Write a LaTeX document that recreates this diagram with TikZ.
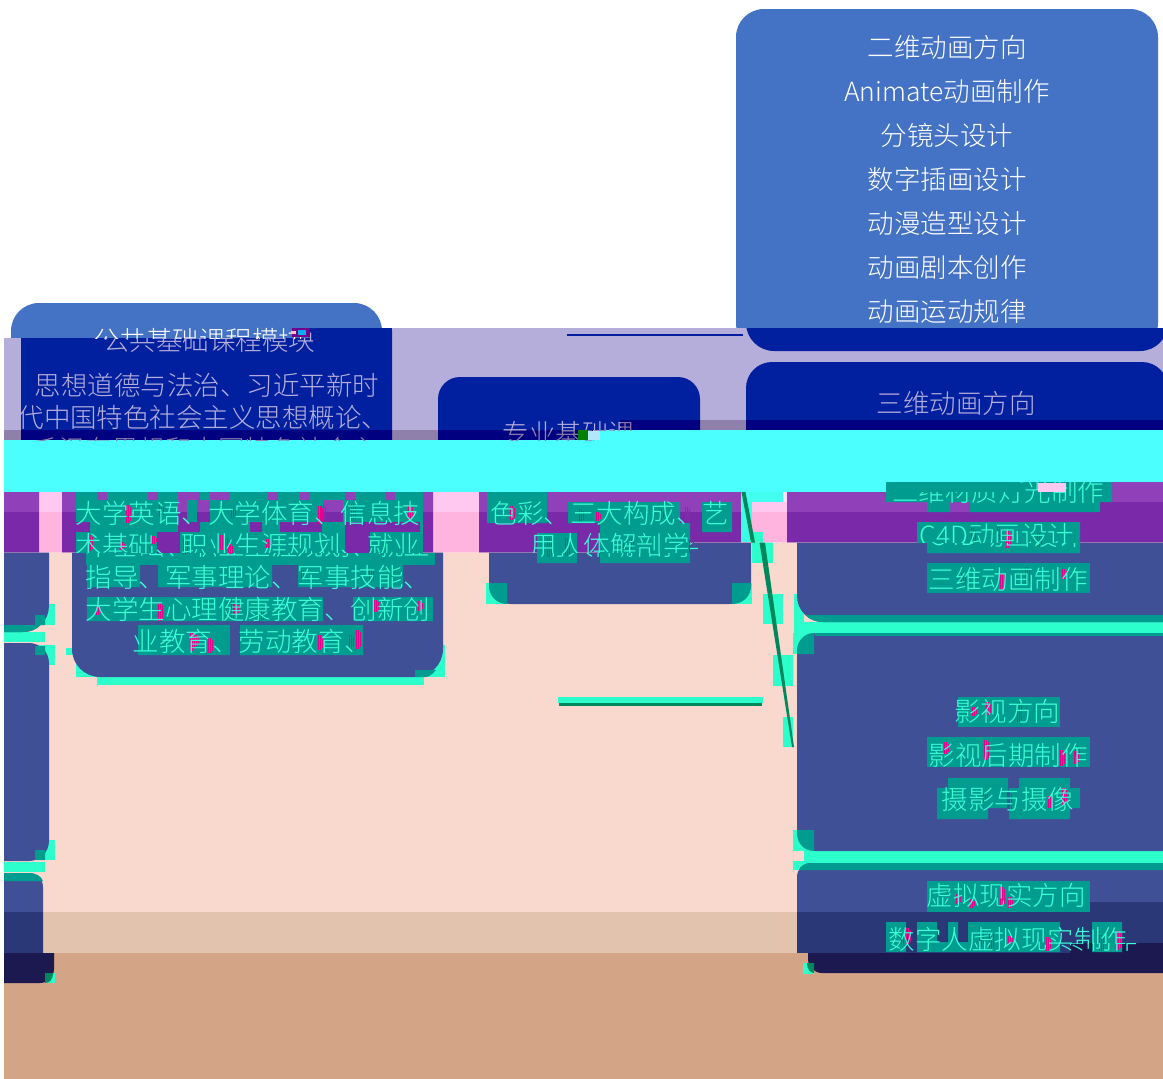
\documentclass[tikz,border=0pt]{standalone}
\usepackage{fontspec}
\setmainfont{Noto Sans CJK SC Light}
\definecolor{topblue}{RGB}{68,114,196}
\definecolor{lav}{RGB}{182,174,218}
\definecolor{navy}{RGB}{0,32,160}
\definecolor{lavd}{RGB}{142,128,170}
\definecolor{navyd}{RGB}{0,0,128}
\definecolor{cyanb}{RGB}{76,255,255}
\definecolor{purA}{RGB}{144,64,184}
\definecolor{purB}{RGB}{122,42,168}
\definecolor{pinkA}{RGB}{255,200,240}
\definecolor{pinkB}{RGB}{255,180,224}
\definecolor{peach}{RGB}{249,216,206}
\definecolor{boxA}{RGB}{64,80,150}
\definecolor{peachd}{RGB}{226,196,174}
\definecolor{boxB}{RGB}{42,56,120}
\definecolor{tan}{RGB}{212,164,134}
\definecolor{boxC}{RGB}{28,24,80}
\definecolor{foam}{RGB}{44,255,204}
\definecolor{patch}{RGB}{0,156,144}
\definecolor{seat}{RGB}{60,255,215}
\definecolor{mag}{RGB}{230,0,140}
\definecolor{linegreen}{RGB}{0,136,92}
\newcommand\boxpaths{[rounded corners=28] (11,303) rectangle (382,677) [rounded corners=22] (428,377) rectangle (690,604) [rounded corners=28] (736,9) rectangle (1158,351) [rounded corners=26] (736,362) rectangle (1158,622) [rounded corners=20] (736,633) rectangle (1158,851) [rounded corners=14] (736,863) rectangle (1152,973)}
\newcommand\clipA{(4,0) -- (1163,0) -- (1163,328) -- (310,328) -- (310,338) -- (4,338) -- cycle}
\newcommand\clipB{(4,338) -- (310,338) -- (310,328) -- (1163,328) -- (1163,420) -- (620,420) -- (620,430) -- (4,430) -- cycle}
\newcommand\clipC{(4,430) -- (620,430) -- (620,420) -- (1163,420) -- (1163,430) -- (593,430) -- (593,440) -- (4,440) -- cycle}
\newcommand\clipD{(4,492) -- (1020,492) -- (1020,482) -- (1163,482) -- (1163,502) -- (1100,502) -- (1100,512) -- (4,512) -- cycle}
\newcommand\clipE{(4,512) -- (1100,512) -- (1100,502) -- (1163,502) -- (1163,542.5) -- (690,542.5) -- (690,552.5) -- (4,552.5) -- cycle}
\newcommand\clipF{(4,552.5) -- (690,552.5) -- (690,542.5) -- (1163,542.5) -- (1163,902) -- (1070,902) -- (1070,912) -- (4,912) -- cycle}
\newcommand\clipG{(4,912) -- (1070,912) -- (1070,902) -- (1163,902) -- (1163,943) -- (1070,943) -- (1070,953) -- (4,953) -- cycle}
\newcommand\clipH{(4,953) -- (1070,953) -- (1070,943) -- (1163,943) -- (1163,1079) -- (4,1079) -- cycle}
\newcommand\foamblocks{%
  \fill[foam] (803,622) rectangle (1163,633);
  \fill[foam] (794,594) rectangle (804,633);
  \fill[foam] (793,633) rectangle (814,654);
  \fill[foam] (793,830) rectangle (814,851);
  \fill[foam] (804,850) rectangle (1163,861);
  \fill[foam] (793,861) rectangle (1163,870);
  \fill[foam] (803,963) rectangle (814,974);
  \fill[foam] (66,648) rectangle (76,655);
  \fill[foam] (76,655) rectangle (97,677);
  \fill[foam] (97,676) rectangle (424,685);
  \fill[foam] (415,645) rectangle (445,677);
  \fill[foam] (486,583) rectangle (507,604);
  \fill[foam] (732,583) rectangle (752,604);
  \fill[foam] (35,604) rectangle (55,625);
  \fill[foam] (4,632) rectangle (45,642);
  \fill[foam] (35,645) rectangle (55,665);
  \fill[foam] (35,840) rectangle (55,860);
  \fill[foam] (4,862) rectangle (45,872);
  \fill[foam] (45,973) rectangle (55,983);
  \fill[foam] (752,542) rectangle (773,563);
  \fill[foam] (763,594) rectangle (783,624);
  \fill[foam] (773,655) rectangle (793,686);
  \fill[foam] (783,717) rectangle (793,747);
  \fill[foam] (558,697) rectangle (763,703);
}
\newcommand\band[5]{%
  \begin{scope}
    \clip #1;
    \fill[#3] (0,0) rectangle (1163,1079);
    #5
    \begin{scope}[xshift=#2pt]
      \fill[#4] \boxpaths;
    \end{scope}
    \begin{scope}[xshift=#2pt-1170pt,yshift=-10pt]
      \fill[#4] \boxpaths;
    \end{scope}
  \end{scope}}
\newcommand\tl[4]{\node[txt,anchor=base] (#1) at (#2,#3+10) {#4};}
\newcommand\alltext{%
  \tl{a1}{947}{47}{二维动画方向}
  \tl{a2}{947}{91}{Animate动画制作}
  \tl{a3}{947}{135}{分镜头设计}
  \tl{a4}{947}{179}{数字插画设计}
  \tl{a5}{947}{223}{动漫造型设计}
  \tl{a6}{947}{267}{动画剧本创作}
  \tl{a7}{947}{311}{动画运动规律}
  \tl{b1}{946}{403}{三维动画方向}
  \tl{b2}{947}{491}{三维材质灯光制作}
  \tl{b3}{946}{535}{C4D动画设计}
  \tl{b4}{947}{579}{三维动画制作}
  \tl{c1}{946}{711}{影视方向}
  \tl{c2}{947}{755}{影视后期制作}
  \tl{c3}{947}{799}{摄影与摄像}
  \tl{d1}{945}{895}{虚拟现实方向}
  \tl{d2}{947}{939}{数字人虚拟现实制作}
  \tl{e0}{199}{340}{公共基础课程模块}
  \tl{e1}{197}{385}{思想道德与法治、习近平新时}
  \tl{e2}{193}{417}{代中国特色社会主义思想概论、}
  \tl{e3}{195}{449}{毛泽东思想和中国特色社会主}
  \tl{e5}{197}{513}{大学英语、大学体育、信息技}
  \tl{e6}{197}{545}{术基础、职业生涯规划、就业}
  \tl{e7}{197}{577}{指导、军事理论、军事技能、}
  \tl{e8}{197}{609}{大学生心理健康教育、创新创}
  \tl{e9}{191}{641}{业教育、劳动教育、}
  \tl{f0}{559}{433}{专业基础课}
  \tl{f2}{559}{513}{色彩、三大构成、艺}
  \tl{f3}{559}{545}{用人体解剖学}
}
\newcommand\textband[3]{%
  \begin{scope}
    \clip #1;
    \begin{scope}[xshift=#2pt,txt/.style={text=#3,font=\fontsize{26.5}{26.5}\selectfont,inner sep=0pt}]
      \alltext
    \end{scope}
  \end{scope}}
\newcommand\scatter[5]{% x1, x2, y1, y2, number of combs
  \foreach \n in {1,...,#5} {
    \pgfmathsetmacro\sx{#1+rnd*(#2-#1)}
    \pgfmathsetmacro\sh{8+rnd*12}
    \pgfmathsetmacro\sy{#3+rnd*(#4-#3-\sh)}
    \fill[mag] (\sx,\sy) rectangle (\sx+1,\sy+\sh);
    \fill[mag] (\sx+2,\sy) rectangle (\sx+3,\sy+\sh);
    \fill[mag] (\sx+4,\sy+2) rectangle (\sx+5,\sy+\sh-2);
  }}
\begin{document}
\begin{tikzpicture}[x=1pt,y=-1pt]
\pgfmathsetseed{42}
\useasboundingbox (0,0) rectangle (1163,1079);
\fill[white] (0,0) rectangle (1163,1079);
\band{\clipA}{0}{white}{topblue}{}
\band{\clipB}{10}{lav}{navy}{}
\band{\clipC}{10}{lavd}{navyd}{}
\fill[cyanb] (4,440) -- (593,440) -- (593,430) -- (1163,430) -- (1163,482) -- (1020,482) -- (1020,492) -- (4,492) -- cycle;
\band{\clipD}{51}{pinkA}{purA}{}
\band{\clipE}{51}{pinkB}{purB}{}
\fill[cyanb!70!foam] (742,492) rectangle (783,502);
\fill[pinkA!60!white] (783,492) rectangle (787,502);
\fill[cyanb!50!foam] (742,502) rectangle (752,542);
\fill[foam] (752,532) rectangle (763,542.5);
\band{\clipF}{61}{peach}{boxA}{\foamblocks}
\band{\clipG}{61}{peachd}{boxB}{\foamblocks}
\band{\clipH}{72}{tan}{boxC}{\foamblocks}
% rims and corner blocks inside the boxes, drawn as plain shapes
\fill[patch] (805.3,615) .. controls (810,620) and (816,622) .. (823,622) -- (1163,622) -- (1163,615) -- cycle;
\fill[patch] (4,625) -- (40.7,625) .. controls (36,630) and (30,632) .. (23,632) -- (4,632) -- cycle;
\fill[patch] (799,870) .. controls (800,866) and (805,863) .. (811,863) -- (1163,863) -- (1163,870) -- cycle;
\fill[patch] (4,873) -- (29,873) .. controls (36,873) and (41,876) .. (43,881) -- (4,881) -- cycle;
\fill[patch] (815,633) rectangle (1163,636);
\fill[patch] (797,654) -- (797,651) .. controls (797,641) and (804,633) .. (814,633) -- (814,654) -- cycle;
\fill[patch] (797,830) -- (797,833) .. controls (797,843) and (804,851) .. (814,851) -- (814,830) -- cycle;
\fill[patch] (489,583) -- (489,586) .. controls (489,596) and (497,604) .. (507,604) -- (507,583) -- cycle;
\fill[patch] (751,583) -- (751,586) .. controls (751,596) and (743,604) .. (732,604) -- (732,583) -- cycle;
\fill[patch] (415,670) -- (436,670) .. controls (433,674) and (429,677) .. (425,677) -- (415,677) -- cycle;
\fill[patch] (35,615) rectangle (45,625) (35,646) rectangle (45,655) (35,850) rectangle (45,860);
\fill[linegreen] (807,963) -- (814,963) -- (814,973) .. controls (810,973) and (807,969) .. (807,963) -- cycle;
\fill[linegreen] (45,973) -- (53,973) .. controls (53,979) and (50,983) .. (45,983) -- cycle;
% connectors
\coordinate (h1a) at (567,335); \coordinate (h1b) at (743,335);
\draw[navy,line width=2.4pt] (h1a) -- (h1b);
\coordinate (h2a) at (559,704.5); \coordinate (h2b) at (762,704.5);
\draw[linegreen,line width=2.8pt] (h2a) -- (h2b);
\fill[linegreen] (741.5,492) -- (745.5,492) -- (755,542.5) -- (751,542.5) -- cycle;
\fill[linegreen] (759.5,542.5) -- (765,542.5) -- (794,747) -- (792,747) -- cycle;
% teal blocks behind the text, with the purple left showing through
\fill[patch] (76,492) rectangle (423,553);
\foreach \a/\b in {97/107,148/158,178/200,210/230,268/278,300/310,345/355,385/395}
  \fill[purA] (\a,492) rectangle (\b,500);
\foreach \a/\b in {178/187,197/210,323/343}{
  \fill[purA] (\a,500) rectangle (\b,512);
  \fill[purB] (\a,512) rectangle (\b,522);}
\foreach \a/\b in {76/90,178/200,250/262,280/322,345/420}
  \fill[purB] (\a,522) rectangle (\b,532);
\foreach \a/\b in {157/180,345/370}
  \fill[purB] (\a,532) rectangle (\b,553);
\fill[patch] (86,553) rectangle (435,565);
\fill[patch] (87,565) rectangle (140,587) (158,565) rectangle (272,587) (298,565) rectangle (403,587);
\fill[patch] (87,597) rectangle (323,621) (353,597) rectangle (433,621);
\fill[patch] (138,625) rectangle (230,655) (240,625) rectangle (363,655);
\fill[patch] (487,492) rectangle (547,523) (568,502) rectangle (680,523) (702,502) rectangle (732,532);
\fill[patch] (600,523) rectangle (690,563) (537,533) rectangle (577,563);
\fill[patch] (886,482) rectangle (1112,502) (927,502) rectangle (950,512) (970,502) rectangle (1100,512);
\fill[patch] (917,522) rectangle (1080,543) (927,543) rectangle (1080,553);
\fill[patch] (927,563) rectangle (1090,593);
\fill[patch] (958,697) rectangle (1060,727);
\fill[patch] (927,737) rectangle (1090,767);
\fill[patch] (948,778) rectangle (1008,808) (937,788) rectangle (988,819) (1009,788) rectangle (1070,819) (1019,778) rectangle (1070,788) (1070,788) rectangle (1080,808);
\fill[patch] (927,881) rectangle (1090,912);
\fill[patch] (886,922) rectangle (906,952) (917,922) rectangle (937,952) (948,922) rectangle (958,952) (968,922) rectangle (1060,952) (1092,922) rectangle (1122,952) (937,942) rectangle (968,952);
% magenta combs, under the text
\scatter{76}{420}{504}{524}{7}
\scatter{76}{420}{534}{556}{8}
\scatter{260}{400}{566}{587}{3}
\scatter{88}{430}{598}{622}{7}
\scatter{140}{360}{628}{653}{6}
\scatter{490}{720}{506}{522}{5}
\scatter{535}{690}{538}{556}{5}
\scatter{950}{1060}{525}{548}{4}
\scatter{950}{1075}{566}{592}{5}
\scatter{965}{1050}{700}{725}{3}
\scatter{930}{1080}{740}{766}{5}
\scatter{945}{1065}{782}{812}{4}
\scatter{935}{1075}{884}{910}{4}
\scatter{888}{1125}{926}{952}{8}
% text
\textband{\clipA}{0}{white}
\textband{\clipB}{10}{lav}
\textband{\clipC}{10}{lavd}
\textband{\clipD}{51}{seat}
\textband{\clipE}{51}{seat}
\textband{\clipF}{61}{seat}
\textband{\clipG}{61}{seat}
\textband{\clipH}{72}{seat}
% noise
\fill[purple!60!blue] (292,328) rectangle (310,337);
\fill[cyan] (298,330) rectangle (306,335);
\fill[pink] (291,331) rectangle (296,334);
\fill[green!50!black] (578,430) rectangle (588,440);
\fill[white!70!cyan] (588,431) rectangle (600,440);
\fill[pinkA] (1038,483) rectangle (1066,492);
\end{tikzpicture}
\end{document}
